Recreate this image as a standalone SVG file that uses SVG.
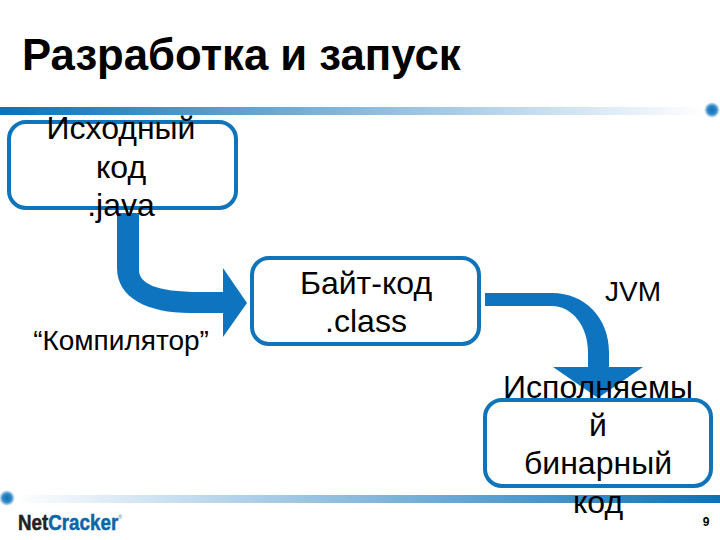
<svg xmlns="http://www.w3.org/2000/svg" width="720" height="540" viewBox="0 0 720 540">
<style>
text{font-family:"Liberation Sans",Arial,sans-serif;fill:#000}
.box{fill:#fff;stroke:#0f74b9;stroke-width:4}
.t{font-size:32px;text-anchor:middle}
.s{font-size:28px;text-anchor:middle}
.arrow{fill:#0f74c0}
</style>
<defs>
<linearGradient id="g1" x1="0" x2="1" y1="0" y2="0"><stop offset="0" stop-color="#0b72b8"/><stop offset="0.5" stop-color="#86b8dc"/><stop offset="1" stop-color="#fff"/></linearGradient>
<linearGradient id="g2" x1="0" x2="1" y1="0" y2="0"><stop offset="0" stop-color="#fff"/><stop offset="0.5" stop-color="#86b8dc"/><stop offset="1" stop-color="#0b72b8"/></linearGradient>
<radialGradient id="d"><stop offset="0" stop-color="#0b72b8"/><stop offset="0.55" stop-color="#2f88c6"/><stop offset="1" stop-color="#2f88c6" stop-opacity="0"/></radialGradient>
</defs>
<rect width="720" height="540" fill="#fff"/>
<text x="22" y="70" font-weight="bold" style="font-size:43.7px">Разработка и запуск</text>
<g id="decor">
<rect x="0" y="107" width="705" height="8" fill="url(#g1)"/>
<circle cx="712" cy="110" r="8" fill="url(#d)"/>
<rect x="14" y="495" width="706" height="8" fill="url(#g2)"/>
<circle cx="7" cy="498" r="8" fill="url(#d)"/>
</g>
<g id="connectors">
<path class="arrow" d="M117 213H139V270C139 283 155 292 200 292H223V268L247 303L223 337V313H190C148 313 117 298 117 268Z"/>
<path class="arrow" d="M485 293H552C585 293 609 318 609 352V367H643L598 398L553 367H588V352C588 326 572 306 552 306H485Z"/>
</g>
<g id="source"><rect class="box" x="9" y="122" width="227" height="86" rx="17"/>
<text class="t"><tspan x="121" y="139">Исходный</tspan><tspan x="121" y="178">код</tspan><tspan x="121" y="216">.java</tspan></text></g>
<g id="bytecode"><rect class="box" x="252" y="258" width="227" height="86" rx="17"/>
<text class="t"><tspan x="366" y="294">Байт-код</tspan><tspan x="366" y="332">.class</tspan></text></g>
<g id="binary"><rect class="box" x="485" y="400" width="226" height="86" rx="17"/>
<text class="t"><tspan x="598" y="398">Исполняемы</tspan><tspan x="598" y="436">й</tspan><tspan x="598" y="474">бинарный</tspan><tspan x="598" y="513">код</tspan></text></g>
<text class="s" x="121" y="350">“Компилятор”</text>
<text class="s" x="633" y="301">JVM</text>
<g id="logo"><text x="18" y="530" font-size="22" font-weight="bold" textLength="104" lengthAdjust="spacingAndGlyphs" style="stroke-width:.5"><tspan style="fill:#222;stroke:#222">Net</tspan><tspan style="fill:#0b66a8;stroke:#0b66a8">Cracker</tspan><tspan font-size="6" dy="-11" style="fill:#6f9fc4;stroke:none">®</tspan></text></g>
<text x="706" y="526" font-size="12" font-weight="bold" text-anchor="middle">9</text>
</svg>
